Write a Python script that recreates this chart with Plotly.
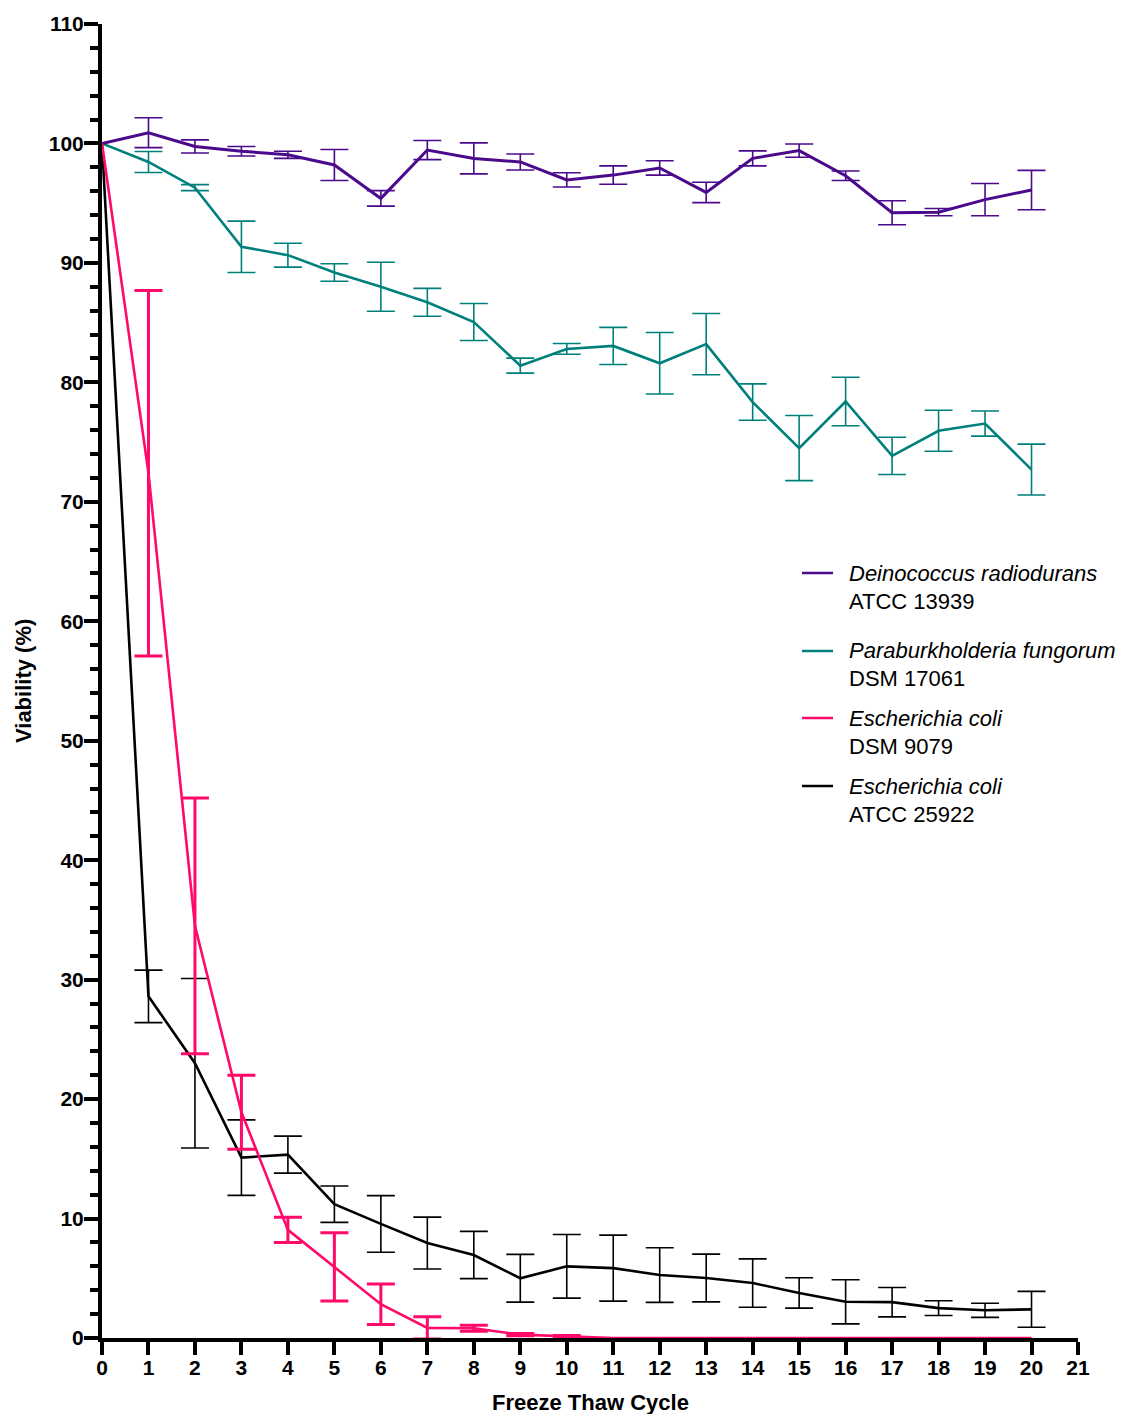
import plotly.graph_objects as go

# ---------------- data ----------------
cycles = list(range(21))

deino_mean = [100, 100.9, 99.75, 99.35, 99.05, 98.2, 95.4, 99.45, 98.75, 98.45, 96.95,
              97.35, 97.95, 95.9, 98.75, 99.4, 97.3, 94.2, 94.25, 95.3, 96.1]
deino_err = ["NaN", 1.25, 0.55, 0.4, 0.3, 1.3, 0.65, 0.8, 1.3, 0.67, 0.6,
             0.77, 0.6, 0.85, 0.63, 0.55, 0.4, 1.0, 0.3, 1.35, 1.65]

para_mean = [100, 98.45, 96.3, 91.35, 90.65, 89.2, 88.0, 86.7, 85.05, 81.4, 82.8,
             83.05, 81.6, 83.2, 78.35, 74.5, 78.4, 73.85, 75.95, 76.55, 72.7]
para_err = ["NaN", 0.88, 0.25, 2.15, 1.0, 0.73, 2.05, 1.17, 1.55, 0.63, 0.45,
            1.55, 2.58, 2.56, 1.52, 2.73, 2.03, 1.56, 1.72, 1.05, 2.13]

ecoli_dsm_mean = [100, 72.4, 34.5, 18.9, 9.05, 5.95, 2.83, 0.85, 0.82, 0.28, 0.14,
                  0, 0, 0, 0, 0, 0, 0, 0, 0, 0]
ecoli_dsm_err = ["NaN", 15.3, 10.7, 3.1, 1.05, 2.86, 1.69, 0.93, 0.25, 0.1, 0.06,
                 "NaN", "NaN", "NaN", "NaN", "NaN", "NaN", "NaN", "NaN", "NaN", "NaN"]

ecoli_atcc_mean = [100, 28.6, 23.0, 15.1, 15.35, 11.2, 9.55, 7.95, 6.95, 5.0, 6.0,
                   5.85, 5.27, 5.02, 4.6, 3.77, 3.03, 3.0, 2.5, 2.32, 2.4]
ecoli_atcc_err = ["NaN", 2.2, 7.1, 3.16, 1.55, 1.52, 2.37, 2.17, 1.98, 2.0, 2.66,
                  2.76, 2.29, 2.0, 2.02, 1.27, 1.85, 1.23, 0.62, 0.59, 1.5]

legend_species = ["Deinococcus radiodurans", "Paraburkholderia fungorum",
                  "Escherichia coli", "Escherichia coli"]
legend_strains = ["ATCC 13939", "DSM 17061", "DSM 9079", "ATCC 25922"]

x_ticks = list(range(0, 22))
y_ticks = list(range(0, 111, 10))

# ---------------- style ----------------
C_PURPLE = "#4B0A8C"
C_TEAL = "#00807C"
C_PINK = "#FF0A6A"
C_BLACK = "#000000"
FONT = "Liberation Sans, Arial, Helvetica, sans-serif"

W, H = 1123, 1414
ML, MR, MT, MB = 102, 45, 24, 76
PW, PH = W - ML - MR, H - MT - MB

fig = go.Figure()

series = [
    (ecoli_atcc_mean, ecoli_atcc_err, C_BLACK, 2.6, 1.6),
    (para_mean, para_err, C_TEAL, 2.6, 1.6),
    (deino_mean, deino_err, C_PURPLE, 3.0, 1.6),
    (ecoli_dsm_mean, ecoli_dsm_err, C_PINK, 2.6, 3.0),
]
for mean, err, col, lw, ew in series:
    fig.add_trace(go.Scatter(
        x=cycles, y=mean, mode="lines",
        line=dict(color=col, width=lw),
        error_y=dict(type="data", array=err, visible=True, color=col,
                     thickness=ew, width=14),
        showlegend=False, hoverinfo="skip",
    ))

fig.update_layout(
    width=W, height=H,
    margin=dict(l=ML, r=MR, t=MT, b=MB),
    plot_bgcolor="white", paper_bgcolor="white",
    font=dict(family=FONT, color="black"),
)

fig.update_xaxes(
    range=[0, 21], tickvals=x_ticks, ticktext=[str(v) for v in x_ticks],
    showgrid=False, zeroline=False,
    showline=True, linecolor="black", linewidth=4,
    ticks="outside", ticklen=13, tickwidth=3.5, tickcolor="black",
    tickfont=dict(family=FONT, size=21, weight="bold", color="black"),
    ticklabelstandoff=-5,
    layer="below traces",
)
fig.update_yaxes(
    range=[0, 110], tickvals=y_ticks, ticktext=[str(v) for v in y_ticks],
    showgrid=False, zeroline=False,
    showline=True, linecolor="black", linewidth=4,
    ticks="outside", ticklen=14, tickwidth=3.5, tickcolor="black",
    tickfont=dict(family=FONT, size=21, weight="bold", color="black"),
    ticklabelstandoff=-4,
    minor=dict(dtick=2, ticks="outside", ticklen=8, tickwidth=3.5,
               tickcolor="black", showgrid=False),
    layer="below traces",
)

def px_to_paper_x(px):
    return (px - ML) / PW

def px_to_paper_y(py):
    return (H - MB - py) / PH

# axis titles
fig.add_annotation(text="<b>Freeze Thaw Cycle</b>", xref="paper", yref="paper",
                   x=px_to_paper_x(590), y=px_to_paper_y(1402),
                   xanchor="center", yanchor="middle", showarrow=False,
                   font=dict(family=FONT, size=22, color="black"))
fig.add_annotation(text="<b>Viability (%)</b>", xref="paper", yref="paper",
                   x=px_to_paper_x(23), y=px_to_paper_y(681), textangle=-90,
                   xanchor="center", yanchor="middle", showarrow=False,
                   font=dict(family=FONT, size=22, color="black"))

# legend (manual, two-line entries)
legend_colors = [C_PURPLE, C_TEAL, C_PINK, C_BLACK]
legend_rows = [573, 651, 718, 786]
for sp, st, col, ry in zip(legend_species, legend_strains, legend_colors, legend_rows):
    fig.add_shape(type="line", xref="paper", yref="paper",
                  x0=px_to_paper_x(802), x1=px_to_paper_x(833),
                  y0=px_to_paper_y(ry), y1=px_to_paper_y(ry),
                  line=dict(color=col, width=2.5))
    fig.add_annotation(text="<i>" + sp + "</i>", xref="paper", yref="paper",
                       x=px_to_paper_x(847), y=px_to_paper_y(ry),
                       xanchor="left", yanchor="middle", showarrow=False,
                       font=dict(family=FONT, size=22, color="black"))
    fig.add_annotation(text=st, xref="paper", yref="paper",
                       x=px_to_paper_x(847), y=px_to_paper_y(ry + 28),
                       xanchor="left", yanchor="middle", showarrow=False,
                       font=dict(family=FONT, size=22, color="black"))

fig.write_html("out.html")
